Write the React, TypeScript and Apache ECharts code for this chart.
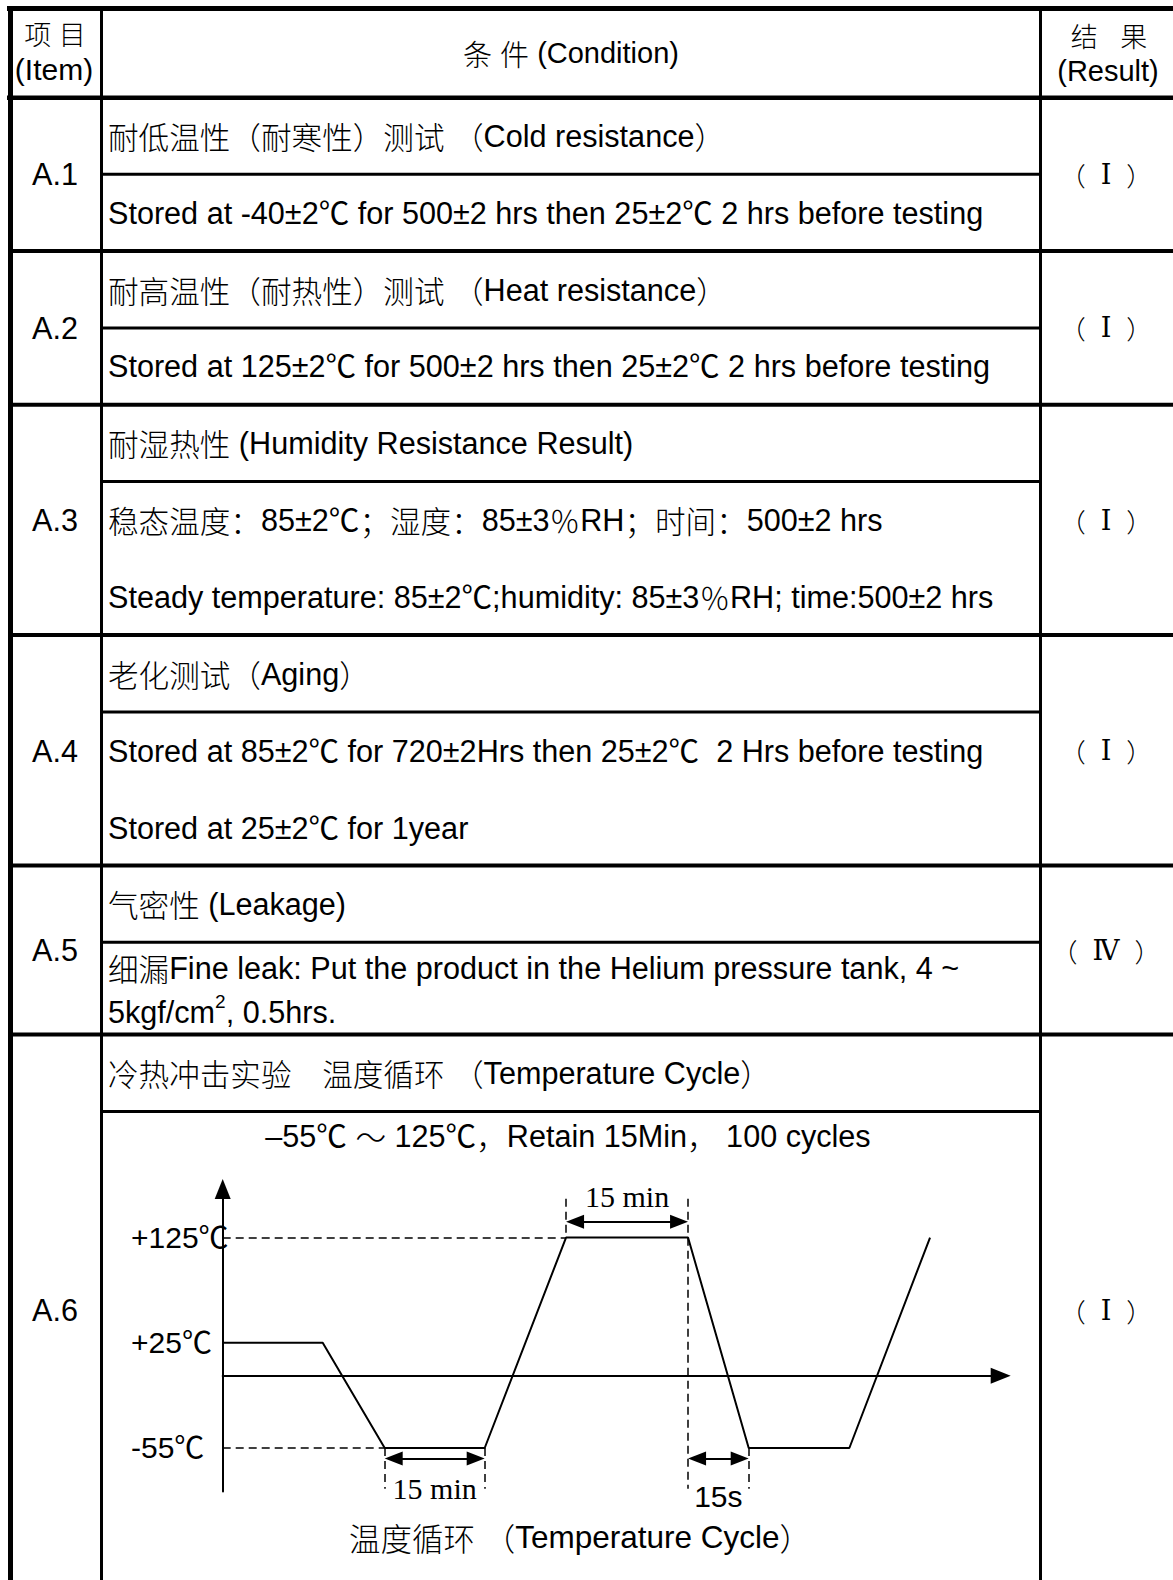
import React, { useEffect, useRef } from 'react';
import * as echarts from 'echarts';

// ---------------- data ----------------
const headerItem = ['项 目', '(Item)'];
const headerCondition = '条 件 (Condition)';
const headerResult = ['结   果', '(Result)'];
const itemCodes = ['A.1', 'A.2', 'A.3', 'A.4', 'A.5', 'A.6'];
const itemResults = ['Ⅰ', 'Ⅰ', 'Ⅰ', 'Ⅰ', 'Ⅳ', 'Ⅰ'];
const conditionTexts = [
  '耐低温性（耐寒性）测试 （Cold resistance）',
  'Stored at -40±2℃ for 500±2 hrs then 25±2℃ 2 hrs before testing',
  '耐高温性（耐热性）测试 （Heat resistance）',
  'Stored at 125±2℃ for 500±2 hrs then 25±2℃ 2 hrs before testing',
  '耐湿热性 (Humidity Resistance Result)',
  '稳态温度：85±2℃；湿度：85±3％RH；时间：500±2 hrs',
  'Steady temperature: 85±2℃;humidity: 85±3％RH; time:500±2 hrs',
  '老化测试（Aging）',
  'Stored at 85±2℃ for 720±2Hrs then 25±2℃  2 Hrs before testing',
  'Stored at 25±2℃ for 1year',
  '气密性 (Leakage)',
  '细漏Fine leak: Put the product in the Helium pressure tank, 4 ~',
  '冷热冲击实验　温度循环 （Temperature Cycle）',
];
const leakLine2 = ['5kgf/cm', '2', ', 0.5hrs.'];
const cycleTitle = '–55℃ ～ 125℃，Retain 15Min， 100 cycles';
const cycleCaption = '温度循环 （Temperature Cycle）';

// temperature cycle schematic (time in schematic minutes, temperature in ℃)
const cycleTime = [0, 15, 24.3, 39.3, 51.5, 69.8, 78.9, 94, 106.1];
const cycleTemp = [25, 25, -55, -55, 125, 125, -55, -55, 125];
const tempLevels = [-55, 25, 125];
const tempLabels = ['-55℃', '+25℃', '+125℃'];
const dwellLabel = '15 min';
const transferLabel = '15s';
// annotation heights (℃ on the schematic scale)
const dimTopTemp = 140;
const dimBottomTemp = -63;
const guideTopTemp = 162;
const guideBottomTemp = -86;

// ---------------- layout ----------------
const W = 1173;
const H = 1580;
const SANS = "'Liberation Sans', Arial, 'Noto Sans CJK SC', sans-serif";
const CJK = "'Noto Sans CJK SC', 'Liberation Sans', sans-serif";
const SERIF = "'Liberation Serif', 'Times New Roman', serif";
const RES = "'DejaVu Serif', 'Noto Sans CJK SC', serif";
const BODY = 30.6;

const blockBottoms = [251, 404.7, 635, 865.5, 1034.5];
const innerDividers = [174.3, 327.9, 481.5, 711.9, 942.3, 1111.5];
const conditionY = [136, 213, 289.5, 366, 443, 520, 597, 674, 751, 828, 904, 967.5, 1073];
const leakLine2Y = 1012;
const itemY = [174.3, 327.9, 520, 750.5, 950, 1310];

// schematic temperature scale: equal spacing between the levels
const f = (t: number) => (t <= 25 ? t / 80 : 25 / 80 + (t - 25) / 100);

const cjkRe = /[\u3000-\u303F\u3400-\u9FFF\uFF00-\uFFEF]/;
function richOf(text: string) {
  let out = '';
  let cur = '';
  let type = '';
  for (const ch of Array.from(text)) {
    const t = cjkRe.test(ch) ? 'c' : 'l';
    if (t !== type && cur) {
      out += `{${type}|${cur}}`;
      cur = '';
    }
    type = t;
    cur += ch;
  }
  if (cur) out += `{${type}|${cur}}`;
  return out;
}

function txt(text: string, x: number, y: number, size = BODY, align = 'left') {
  return {
    type: 'text',
    x,
    y,
    silent: true,
    style: {
      text: richOf(text),
      fill: '#000',
      align,
      verticalAlign: 'middle',
      textAlign: align,
      textVerticalAlign: 'middle',
      rich: {
        l: { fontSize: size, fontFamily: SANS, fill: '#000' },
        c: { fontSize: size, fontFamily: CJK, fontWeight: 300, fill: '#000' },
      },
    },
  };
}
function box(x: number, y: number, w: number, h: number) {
  return { type: 'rect', silent: true, shape: { x, y, width: w, height: h }, style: { fill: '#000' } };
}

export default function App() {
  const ref = useRef<HTMLDivElement>(null);
  useEffect(() => {
    if (!ref.current) return;
    const chart = echarts.init(ref.current, null, { renderer: 'svg', width: W, height: H });

    const g: any[] = [];
    // thick frame / grid lines
    g.push(box(7, 6, W - 7, 5));
    g.push(box(8, 6, 5, H - 6));
    g.push(box(7, 95.5, W - 7, 4.5));
    blockBottoms.forEach((y) => g.push(box(8, y - 2, W - 8, 4)));
    g.push(box(100, 6, 3, H - 6));
    g.push(box(1039, 6, 3, H - 6));
    innerDividers.forEach((y) => g.push(box(101.5, y - 1.5, 939, 3)));

    // header
    g.push(txt(headerItem[0], 55, 33, 27, 'center'));
    g.push(txt(headerItem[1], 54, 69, 30, 'center'));
    g.push(txt(headerCondition, 571, 53, 29, 'center'));
    g.push(txt(headerResult[0], 1109, 35, 27, 'center'));
    g.push(txt(headerResult[1], 1108, 70.5, 29, 'center'));

    itemCodes.forEach((c, i) => g.push(txt(c, 55, itemY[i], BODY, 'center')));
    itemResults.forEach((r, i) =>
      g.push({
        type: 'text',
        x: 1106,
        y: itemY[i],
        silent: true,
        style: {
          text: `{p|（}{n|${r}}{p|）}`,
          fill: '#000',
          align: 'center',
          verticalAlign: 'middle',
          textAlign: 'center',
          textVerticalAlign: 'middle',
          rich: {
            p: { fontSize: 26, fontFamily: CJK, fontWeight: 300, fill: '#000' },
            n: { fontSize: 27, fontFamily: RES, fill: '#000', padding: [0, 15, 0, 15] },
          },
        },
      })
    );
    conditionTexts.forEach((t, i) => g.push(txt(t, 108, conditionY[i], BODY, 'left')));

    g.push({
      type: 'text',
      x: 108,
      y: leakLine2Y,
      silent: true,
      style: {
        text: `{a|${leakLine2[0]}}{s|${leakLine2[1]}}{a|${leakLine2[2]}}`,
        fill: '#000',
        align: 'left',
        verticalAlign: 'middle',
        textAlign: 'left',
        textVerticalAlign: 'middle',
        rich: {
          a: { fontSize: BODY, fontFamily: SANS, fill: '#000', lineHeight: 40 },
          s: { fontSize: 19, fontFamily: SANS, fill: '#000', lineHeight: 19, verticalAlign: 'top' },
        },
      },
    });

    g.push(txt(cycleTitle, 568, 1136, 30.6, 'center'));
    g.push(txt(cycleCaption, 580, 1537, 31.5, 'center'));

    const aOff = 1.35;
    const dashed = { color: '#000', width: 1.5, type: [8, 5] };
    const guide = (x1: number, t1: number, x2: number, t2: number) => [
      { coord: [x1, f(t1)] },
      { coord: [x2, f(t2)] },
    ];
    const dim = (x1: number, x2: number, t: number, label: string, pos: string, dist: number, fam: string) => [
      {
        coord: [x1 + aOff, f(t)],
        symbol: 'triangle',
        symbolSize: [14, 18],
        lineStyle: { type: 'solid', width: 2, color: '#000' },
        label: {
          show: true,
          formatter: label,
          position: pos,
          distance: dist,
          color: '#000',
          fontSize: 30,
          fontFamily: fam,
        },
      },
      { coord: [x2 - aOff, f(t)], symbol: 'triangle', symbolSize: [14, 18] },
    ];

    const option: any = {
      animation: false,
      backgroundColor: '#fff',
      grid: { left: 222.7, top: 1189, width: 778, height: 302.4, containLabel: false },
      xAxis: {
        type: 'value',
        min: 0,
        max: 116.7,
        axisLine: {
          show: true,
          onZero: true,
          symbol: ['none', 'triangle'],
          symbolSize: [16, 20],
          lineStyle: { color: '#000', width: 2 },
        },
        axisTick: { show: false },
        axisLabel: { show: false },
        splitLine: { show: false },
      },
      yAxis: {
        type: 'value',
        min: -1.1,
        max: 1.774,
        axisLine: {
          show: true,
          onZero: true,
          symbol: ['none', 'triangle'],
          symbolSize: [16, 20],
          lineStyle: { color: '#000', width: 2 },
        },
        axisTick: { show: false },
        splitLine: { show: false },
        axisLabel: {
          show: true,
          customValues: tempLevels.map(f),
          formatter: (v: number) => {
            const i = tempLevels.findIndex((t) => Math.abs(f(t) - v) < 1e-6);
            return i >= 0 ? tempLabels[i] : '';
          },
          align: 'left',
          margin: 91.7,
          color: '#000',
          fontSize: 30,
          fontFamily: SANS,
        },
      },
      series: [
        {
          type: 'line',
          silent: true,
          showSymbol: false,
          symbol: 'none',
          data: cycleTime.map((x, i) => [x, f(cycleTemp[i])]),
          lineStyle: { color: '#000', width: 2 },
          markLine: {
            silent: true,
            symbol: ['none', 'none'],
            label: { show: false },
            lineStyle: dashed,
            emphasis: { disabled: true },
            data: [
              guide(0, 125, cycleTime[4], 125),
              guide(0, -55, cycleTime[2], -55),
              guide(cycleTime[4], guideTopTemp, cycleTime[4], 125),
              guide(cycleTime[5], guideTopTemp, cycleTime[5], guideBottomTemp),
              guide(cycleTime[2], -55, cycleTime[2], guideBottomTemp),
              guide(cycleTime[3], -55, cycleTime[3], guideBottomTemp),
              guide(cycleTime[6], -55, cycleTime[6], guideBottomTemp),
              dim(cycleTime[4], cycleTime[5], dimTopTemp, dwellLabel, 'insideMiddleTop', 10, SERIF),
              dim(cycleTime[2], cycleTime[3], dimBottomTemp, dwellLabel, 'insideMiddleBottom', 15, SERIF),
              dim(cycleTime[5], cycleTime[6], dimBottomTemp, transferLabel, 'insideMiddleBottom', 23, SANS),
            ],
          },
        },
      ],
      graphic: { elements: g },
    };
    chart.setOption(option);
    return () => chart.dispose();
  }, []);
  return (
    <div
      ref={ref}
      style={{ position: 'absolute', left: 0, top: 0, width: W, height: H, background: '#fff' }}
    />
  );
}
